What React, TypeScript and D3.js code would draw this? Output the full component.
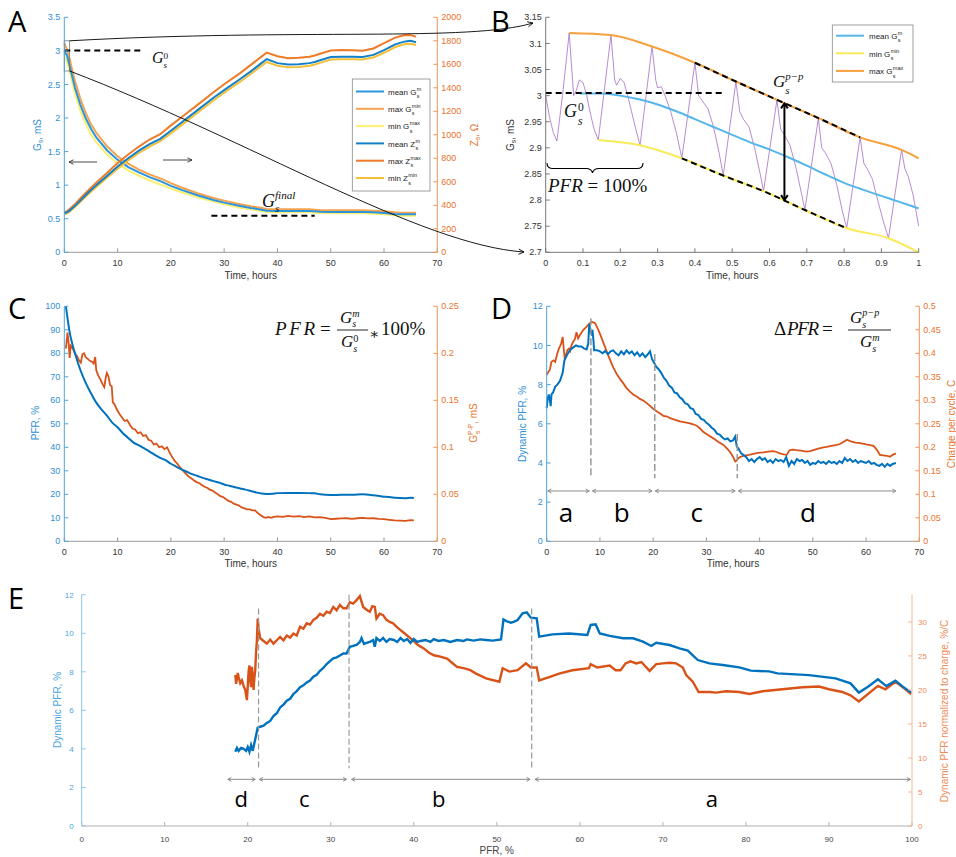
import React from 'react';
import * as d3 from 'd3';

const SANS = "'Liberation Sans', Arial, Helvetica, sans-serif";
const SERIF = "'Liberation Serif', 'DejaVu Serif', 'Times New Roman', serif";
const LETTER = "'Open Sans', 'DejaVu Sans', sans-serif";

// ---------------- Panel A data ----------------
const timeA = [0, 0.5, 1, 2, 3, 4, 5, 6, 8, 10, 12, 14, 16, 18, 20, 22, 25, 28, 30, 33, 35, 37, 38, 40, 42, 44, 46, 47, 48, 50, 52, 54, 56, 58, 60, 62, 63, 64, 65, 66];
const meanG = [3.0, 2.93, 2.78, 2.45, 2.2, 2.0, 1.84, 1.71, 1.52, 1.38, 1.27, 1.19, 1.12, 1.06, 0.99, 0.93, 0.85, 0.78, 0.74, 0.69, 0.66, 0.635, 0.62, 0.615, 0.615, 0.615, 0.615, 0.61, 0.605, 0.6, 0.6, 0.6, 0.6, 0.595, 0.585, 0.57, 0.565, 0.565, 0.565, 0.565];
const maxG = [3.12, 3.02, 2.88, 2.55, 2.29, 2.08, 1.91, 1.78, 1.58, 1.43, 1.32, 1.23, 1.16, 1.1, 1.03, 0.965, 0.88, 0.81, 0.77, 0.715, 0.685, 0.66, 0.645, 0.64, 0.64, 0.64, 0.64, 0.635, 0.63, 0.625, 0.625, 0.625, 0.625, 0.62, 0.61, 0.595, 0.59, 0.59, 0.59, 0.59];
const minG = [2.92, 2.84, 2.7, 2.36, 2.11, 1.92, 1.76, 1.64, 1.46, 1.32, 1.22, 1.14, 1.07, 1.01, 0.95, 0.895, 0.82, 0.755, 0.715, 0.665, 0.64, 0.615, 0.6, 0.595, 0.595, 0.595, 0.595, 0.59, 0.585, 0.58, 0.58, 0.58, 0.58, 0.575, 0.565, 0.55, 0.545, 0.545, 0.545, 0.545];
const meanZ = [333, 340, 355, 395, 440, 485, 530, 570, 650, 730, 800, 865, 920, 965, 1035, 1105, 1210, 1315, 1380, 1475, 1540, 1610, 1645, 1610, 1598, 1600, 1610, 1620, 1635, 1662, 1665, 1665, 1662, 1680, 1720, 1768, 1782, 1795, 1800, 1788];
const maxZ = [340, 350, 368, 410, 458, 505, 550, 592, 675, 760, 832, 900, 960, 1005, 1080, 1150, 1255, 1362, 1430, 1525, 1595, 1665, 1700, 1668, 1652, 1655, 1665, 1675, 1690, 1718, 1722, 1720, 1715, 1735, 1780, 1825, 1838, 1850, 1848, 1835];
const minZ = [325, 332, 345, 385, 428, 472, 515, 555, 635, 712, 782, 845, 900, 945, 1012, 1082, 1188, 1292, 1358, 1452, 1518, 1585, 1620, 1588, 1575, 1578, 1588, 1598, 1612, 1640, 1643, 1643, 1640, 1658, 1698, 1745, 1760, 1772, 1775, 1765];
const ticksGA = [0, 0.5, 1, 1.5, 2, 2.5, 3, 3.5];
const ticksZA = [0, 200, 400, 600, 800, 1000, 1200, 1400, 1600, 1800, 2000];
const ticksTime = [0, 10, 20, 30, 40, 50, 60, 70];
const legendA = [
  ['mean G', 'm'], ['max G', 'min'], ['min G', 'max'],
  ['mean Z', 'm'], ['max Z', 'max'], ['min Z', 'min'],
];

// ---------------- Panel B data ----------------
const bMax: [number, number][] = [[0.063, 3.12], [0.175, 3.116], [0.285, 3.094], [0.4, 3.063], [0.51, 3.027], [0.62, 2.992], [0.731, 2.957], [0.843, 2.92], [0.954, 2.896], [1.0, 2.88]];
const bMean: [number, number][] = [[0.092, 3.004], [0.15, 3.004], [0.2, 3.0], [0.25, 2.993], [0.3, 2.983], [0.35, 2.97], [0.4, 2.955], [0.45, 2.94], [0.5, 2.925], [0.55, 2.91], [0.6, 2.897], [0.65, 2.882], [0.7, 2.866], [0.75, 2.849], [0.8, 2.833], [0.85, 2.82], [0.9, 2.808], [0.95, 2.796], [1.0, 2.784]];
const bMin: [number, number][] = [[0.141, 2.915], [0.253, 2.905], [0.365, 2.88], [0.476, 2.847], [0.584, 2.817], [0.695, 2.781], [0.807, 2.746], [0.919, 2.727], [1.0, 2.7]];
const bSignal: [number, number][] = [
  [0, 3.0], [0.01, 2.96], [0.02, 2.93], [0.03, 2.913], [0.045, 3.0], [0.063, 3.12], [0.075, 3.0], [0.082, 3.01], [0.09, 3.03], [0.1, 3.025], [0.11, 3.0], [0.12, 2.965], [0.13, 2.935], [0.141, 2.915],
  [0.175, 3.116], [0.185, 3.03], [0.19, 3.02], [0.2, 3.033], [0.21, 3.025], [0.22, 3.0], [0.23, 2.97], [0.24, 2.94], [0.253, 2.905],
  [0.285, 3.094], [0.295, 3.03], [0.3, 3.015], [0.31, 3.017], [0.32, 3.0], [0.335, 2.97], [0.35, 2.93], [0.365, 2.88],
  [0.4, 3.063], [0.41, 3.0], [0.42, 2.99], [0.435, 2.975], [0.45, 2.94], [0.465, 2.89], [0.476, 2.847],
  [0.51, 3.027], [0.52, 2.97], [0.53, 2.955], [0.545, 2.94], [0.56, 2.9], [0.575, 2.85], [0.584, 2.817],
  [0.62, 2.992], [0.63, 2.935], [0.64, 2.925], [0.655, 2.905], [0.67, 2.865], [0.685, 2.815], [0.695, 2.781],
  [0.731, 2.957], [0.74, 2.9], [0.75, 2.89], [0.765, 2.87], [0.78, 2.83], [0.795, 2.78], [0.807, 2.746],
  [0.843, 2.92], [0.853, 2.87], [0.862, 2.86], [0.876, 2.84], [0.89, 2.8], [0.905, 2.76], [0.919, 2.727],
  [0.954, 2.896], [0.963, 2.86], [0.972, 2.845], [0.985, 2.81], [1.0, 2.75],
];
const ticksGB = [2.7, 2.75, 2.8, 2.85, 2.9, 2.95, 3, 3.05, 3.1, 3.15];
const ticksTB = [0, 0.1, 0.2, 0.3, 0.4, 0.5, 0.6, 0.7, 0.8, 0.9, 1];
const legendB = [['mean G', 'm'], ['min G', 'min'], ['max G', 'max']];
const bG0 = 3.005;
const bUpperRange = [0.4, 0.845];
const bLowerRange = [0.365, 0.808];
const bArrowT = 0.64;
const bArrowG = [2.985, 2.8];

// ---------------- Panel C data ----------------
const pfrC: [number, number][] = [[0.3, 100], [0.6, 95], [1, 89], [1.5, 84], [2, 80], [3, 73], [4, 67.5], [5, 63], [6, 59], [7, 56], [8, 53.5], [9, 50.5], [10, 48.5], [11, 46], [12, 44], [13, 42], [14, 40.8], [15, 39.5], [16, 38.2], [17, 36.8], [18, 35.5], [19, 34.5], [20, 33], [21, 31.8], [22, 30.6], [23, 29.6], [24, 28.6], [25, 27.8], [26, 27], [27, 26.3], [28, 25.6], [29, 25], [30, 24.2], [31, 23.6], [32, 23], [33, 22.5], [34, 22], [35, 21.4], [36, 20.8], [37, 20.3], [38, 20.1], [39, 20.2], [40, 20.5], [42, 20.6], [44, 20.6], [46, 20.5], [47, 20.4], [48, 20.0], [50, 19.7], [52, 19.8], [54, 19.8], [56, 20.0], [58, 19.6], [60, 19.0], [62, 18.5], [64, 18.3], [65, 18.5], [65.6, 18.4]];
const gppC: [number, number][] = [[0.3, 0.205], [0.6, 0.222], [0.8, 0.212], [1.0, 0.195], [1.2, 0.208], [1.6, 0.205], [2.0, 0.2], [2.4, 0.197], [2.8, 0.192], [3.1, 0.19], [3.4, 0.199], [3.7, 0.2], [4.0, 0.196], [4.4, 0.194], [4.8, 0.192], [5.2, 0.191], [5.5, 0.189], [5.8, 0.196], [6.0, 0.182], [6.4, 0.176], [6.8, 0.172], [7.2, 0.167], [7.5, 0.164], [7.8, 0.175], [8.0, 0.179], [8.3, 0.175], [8.6, 0.166], [8.9, 0.165], [9.1, 0.148], [9.4, 0.146], [9.8, 0.141], [10.3, 0.136], [10.8, 0.132], [11.3, 0.128], [11.8, 0.129], [12.3, 0.124], [12.8, 0.12], [13.3, 0.119], [13.8, 0.115], [14.3, 0.116], [14.8, 0.112], [15.3, 0.113], [15.8, 0.108], [16.3, 0.107], [16.8, 0.103], [17.3, 0.104], [17.8, 0.1], [18.3, 0.101], [18.8, 0.098], [19.3, 0.1], [19.8, 0.094], [20.3, 0.089], [20.8, 0.085], [21.3, 0.082], [21.8, 0.078], [22.3, 0.075], [22.8, 0.072], [23.3, 0.069], [23.8, 0.067], [24.3, 0.065], [24.8, 0.063], [25.3, 0.062], [25.8, 0.06], [26.3, 0.058], [26.8, 0.057], [27.3, 0.055], [27.8, 0.054], [28.3, 0.052], [28.8, 0.05], [29.3, 0.048], [29.8, 0.047], [30.3, 0.045], [30.8, 0.043], [31.3, 0.042], [31.8, 0.04], [32.3, 0.039], [32.8, 0.038], [33.3, 0.036], [33.8, 0.035], [34.3, 0.034], [34.8, 0.034], [35.3, 0.033], [35.8, 0.033], [36.3, 0.03], [36.8, 0.028], [37.3, 0.026], [37.8, 0.025], [38.3, 0.026], [38.8, 0.025], [39.3, 0.026], [40, 0.0265], [41, 0.026], [42, 0.027], [43, 0.0262], [44, 0.0268], [45, 0.0258], [46, 0.0265], [47, 0.0255], [48, 0.0258], [49, 0.0248], [50, 0.0235], [51, 0.024], [52, 0.0243], [53, 0.0245], [54, 0.0238], [55, 0.0245], [56, 0.025], [57, 0.0243], [58, 0.0245], [59, 0.0238], [60, 0.0235], [61, 0.0228], [62, 0.0222], [63, 0.022], [64, 0.0218], [65, 0.0225], [65.6, 0.0222]];
const ticksPFR = [0, 10, 20, 30, 40, 50, 60, 70, 80, 90, 100];
const ticksGpp = [0, 0.05, 0.1, 0.15, 0.2, 0.25];

// ---------------- Panel D data ----------------
const dynD: [number, number][] = [[0, 6.8], [0.2, 7.3], [0.4, 7.5], [0.6, 7.2], [0.75, 6.9], [0.9, 7.5], [1.2, 7.6], [1.6, 7.9], [2.0, 8.0], [2.5, 8.2], [3.0, 8.6], [3.3, 9.2], [3.6, 9.4], [4.0, 9.6], [4.5, 9.8], [5.0, 9.9], [5.5, 10.0], [6.0, 9.95], [6.5, 9.95], [7.0, 9.85], [7.5, 9.8], [7.8, 10.1], [8.0, 11.1], [8.2, 10.7], [8.4, 10.6], [8.6, 10.8], [8.8, 10.2], [8.9, 9.75], [9.5, 9.75], [10, 9.7], [10.5, 9.6], [11, 9.72], [11.5, 9.55], [12, 9.7], [12.5, 9.75], [13, 9.6], [13.5, 9.5], [14, 9.7], [14.5, 9.55], [15, 9.75], [15.5, 9.6], [16, 9.7], [16.5, 9.5], [17, 9.65], [17.5, 9.45], [18, 9.6], [18.5, 9.4], [19, 9.55], [19.4, 9.7], [19.8, 9.3], [20.2, 9.1], [20.6, 8.9], [21, 8.8], [21.5, 8.6], [22, 8.35], [22.5, 8.2], [23, 7.95], [23.5, 7.85], [24, 7.6], [24.5, 7.55], [25, 7.35], [25.5, 7.25], [26, 7.05], [26.5, 7.0], [27, 6.8], [27.5, 6.75], [28, 6.5], [28.5, 6.45], [29, 6.25], [29.5, 6.2], [30, 6.05], [30.5, 5.95], [31, 5.8], [31.5, 5.7], [32, 5.5], [32.5, 5.45], [33, 5.3], [33.5, 5.2], [34, 5.25], [34.5, 5.1], [35, 5.15], [35.4, 5.35], [35.7, 4.85], [36, 4.75], [36.5, 4.5], [37, 4.4], [37.5, 4.3], [38, 4.1], [38.5, 4.2], [39, 4.05], [39.5, 4.2], [40, 4.3], [40.5, 4.15], [41, 4.25], [41.5, 4.05], [42, 4.15], [42.5, 4.0], [43, 4.2], [43.5, 4.1], [44, 4.15], [44.5, 4.05], [45, 4.3], [45.5, 3.85], [46, 4.1], [46.5, 3.95], [47, 4.2], [47.5, 4.1], [48, 4.15], [48.5, 4.0], [49, 4.1], [49.5, 3.9], [50, 4.0], [50.5, 3.95], [51, 4.1], [51.5, 4.0], [52, 4.05], [52.5, 3.95], [53, 4.1], [53.5, 4.0], [54, 4.05], [54.5, 3.95], [55, 4.1], [55.5, 4.0], [56, 4.25], [56.5, 4.1], [57, 4.2], [57.5, 4.05], [58, 4.15], [58.5, 4.0], [59, 4.1], [59.5, 4.05], [60, 4.0], [60.5, 4.1], [61, 3.95], [61.5, 4.0], [62, 3.9], [62.5, 3.85], [63, 3.95], [63.5, 3.8], [64, 3.95], [64.5, 3.85], [65, 3.95], [65.6, 4.0]];
const chargeD: [number, number][] = [[0, 0.354], [0.3, 0.36], [0.6, 0.365], [0.9, 0.382], [1.3, 0.385], [1.6, 0.382], [2.0, 0.4], [2.3, 0.41], [2.7, 0.42], [3.0, 0.435], [3.2, 0.41], [3.4, 0.386], [3.7, 0.4], [3.9, 0.407], [4.2, 0.41], [4.4, 0.405], [4.7, 0.418], [5.0, 0.425], [5.3, 0.43], [5.6, 0.445], [5.9, 0.432], [6.3, 0.44], [6.9, 0.45], [7.5, 0.457], [8.0, 0.463], [8.5, 0.467], [9.1, 0.464], [9.7, 0.45], [10.2, 0.436], [10.7, 0.421], [11.3, 0.403], [11.9, 0.386], [12.5, 0.37], [13.1, 0.357], [13.8, 0.345], [14.4, 0.336], [15, 0.326], [15.7, 0.318], [16.3, 0.312], [16.9, 0.308], [17.5, 0.303], [18.2, 0.299], [18.8, 0.294], [19.4, 0.288], [20, 0.282], [20.7, 0.276], [21.3, 0.272], [21.9, 0.267], [22.5, 0.266], [23.2, 0.262], [24, 0.259], [25, 0.255], [26, 0.253], [26.9, 0.251], [27.5, 0.249], [28.2, 0.246], [28.8, 0.24], [29.4, 0.233], [30.3, 0.226], [31.3, 0.219], [32.2, 0.212], [33.2, 0.205], [33.8, 0.198], [34.4, 0.191], [35, 0.18], [35.4, 0.17], [35.7, 0.172], [36, 0.177], [36.5, 0.18], [37, 0.182], [38, 0.184], [38.8, 0.186], [39.7, 0.188], [40.7, 0.189], [41.6, 0.191], [42.6, 0.192], [43.2, 0.19], [43.8, 0.187], [44.5, 0.185], [45.1, 0.184], [45.4, 0.19], [45.7, 0.194], [46.3, 0.195], [46.9, 0.194], [47.8, 0.193], [48.8, 0.191], [49.5, 0.192], [50.1, 0.194], [51, 0.197], [52, 0.2], [52.6, 0.201], [53.5, 0.203], [54.5, 0.205], [55.1, 0.207], [55.8, 0.212], [56.4, 0.216], [57, 0.213], [58, 0.21], [58.9, 0.209], [60, 0.206], [61, 0.204], [61.4, 0.203], [62, 0.195], [62.6, 0.184], [63.2, 0.183], [63.9, 0.182], [64.5, 0.18], [65, 0.184], [65.6, 0.187]];
const ticksDyn = [0, 2, 4, 6, 8, 10, 12];
const ticksCharge = [0, 0.05, 0.1, 0.15, 0.2, 0.25, 0.3, 0.35, 0.4, 0.45, 0.5];
const dPhaseLines: [number, number][] = [[8.3, 11.39], [20.3, 9.57], [35.8, 5.48]];
const dPhaseBottom = 3.22;
const dArrowStart = [0.2, 8.6, 20.4, 36.0];
const dArrowEnd = [8.0, 19.8, 35.4, 65.6];
const dArrowLevel = 2.57;
const dLetters = ['a', 'b', 'c', 'd'];
const dLetterX = [3.6, 14.1, 28.2, 49.1];
const dLetterLevel = 1.0;

// ---------------- Panel E data ----------------
const dynE: [number, number][] = [[18.5, 3.85], [18.7, 4.05], [18.9, 3.9], [19.2, 4.05], [19.5, 4.0], [19.8, 3.9], [20.0, 4.1], [20.2, 3.85], [20.4, 4.2], [20.6, 3.9], [20.8, 4.3], [21.0, 4.7], [21.2, 5.1], [21.5, 5.15], [21.9, 5.2], [22.3, 5.35], [22.7, 5.45], [23.1, 5.7], [23.5, 5.85], [23.9, 6.15], [24.3, 6.3], [24.7, 6.5], [25.1, 6.6], [25.5, 6.85], [25.9, 7.0], [26.3, 7.2], [26.7, 7.3], [27.1, 7.45], [27.5, 7.55], [27.9, 7.75], [28.3, 7.85], [28.7, 8.05], [29.1, 8.2], [29.5, 8.4], [29.9, 8.55], [30.3, 8.7], [30.7, 8.75], [31.1, 8.85], [31.5, 8.95], [31.9, 8.95], [32.3, 9.3], [32.7, 9.35], [33.1, 9.4], [33.5, 9.55], [33.7, 9.75], [34.0, 9.45], [34.3, 9.5], [34.7, 9.55], [35.1, 9.65], [35.3, 9.3], [35.5, 9.75], [35.9, 9.6], [36.3, 9.75], [36.7, 9.55], [37.1, 9.7], [37.6, 9.65], [38.0, 9.55], [38.4, 9.75], [38.8, 9.6], [39.2, 9.7], [39.6, 9.5], [40.0, 9.7], [40.4, 9.55], [40.8, 9.6], [41.4, 9.65], [42.0, 9.55], [42.4, 9.7], [43.0, 9.6], [43.6, 9.65], [44.4, 9.55], [45.2, 9.65], [46.0, 9.6], [46.4, 9.68], [47.2, 9.62], [48.0, 9.68], [48.7, 9.65], [49.5, 9.62], [50.5, 9.68], [50.8, 10.72], [51.2, 10.62], [51.7, 10.55], [52.1, 10.6], [52.5, 10.69], [53.1, 11.03], [53.6, 11.08], [54.1, 10.81], [54.8, 10.77], [55.1, 9.82], [56.7, 9.94], [58.7, 9.99], [60.9, 9.91], [61.3, 10.43], [61.9, 10.46], [62.4, 9.99], [63.6, 9.86], [65.2, 9.74], [66.4, 9.74], [67.6, 9.56], [68.6, 9.34], [69.2, 9.51], [70.8, 9.39], [72, 9.22], [73, 9.1], [74.2, 8.61], [75.6, 8.44], [77.2, 8.35], [79.2, 8.23], [80.6, 8.06], [82.8, 8.02], [83.8, 7.92], [87.6, 7.83], [90.8, 7.66], [92.6, 7.4], [93.6, 6.92], [94.7, 7.23], [95.9, 7.61], [96.9, 7.26], [98, 7.54], [98.9, 7.23], [99.9, 6.92]];
const normE: [number, number][] = [[18.5, 22.2], [18.6, 20.9], [18.8, 22.5], [18.9, 21.9], [19.1, 21.0], [19.3, 21.4], [19.5, 20.6], [19.7, 20.0], [19.9, 18.5], [20.0, 20.5], [20.1, 22.7], [20.2, 23.6], [20.3, 21.4], [20.4, 20.4], [20.5, 23.4], [20.6, 22.0], [20.7, 20.0], [20.8, 21.8], [20.9, 22.9], [21.0, 25.5], [21.1, 27.3], [21.2, 30.5], [21.3, 29.0], [21.5, 27.6], [21.9, 27.2], [22.3, 26.8], [22.7, 27.4], [23.1, 26.8], [23.5, 27.3], [23.9, 27.8], [24.3, 27.3], [24.7, 28.0], [25.1, 27.7], [25.5, 28.3], [25.9, 28.0], [26.3, 29.3], [26.7, 29.0], [27.1, 29.8], [27.5, 29.6], [27.9, 30.3], [28.3, 30.6], [28.7, 31.2], [29.1, 30.9], [29.5, 31.5], [29.9, 31.3], [30.3, 32.2], [30.7, 31.7], [31.1, 32.5], [31.5, 32.0], [31.9, 32.0], [32.3, 32.9], [32.7, 32.7], [33.1, 33.2], [33.5, 33.8], [33.9, 32.2], [34.3, 31.8], [34.7, 31.5], [35.0, 32.3], [35.3, 32.2], [35.5, 30.5], [35.9, 31.2], [36.3, 31.0], [36.7, 30.3], [37.1, 30.0], [37.5, 29.8], [37.9, 29.3], [38.4, 28.8], [38.9, 28.3], [39.4, 27.8], [39.9, 27.3], [40.5, 26.6], [41.2, 26.1], [41.8, 25.5], [42.4, 25.1], [43.2, 24.9], [44.0, 24.6], [44.6, 24.0], [45.2, 23.4], [46.0, 23.2], [46.8, 22.9], [47.5, 22.4], [48.7, 21.7], [50.3, 21.2], [50.7, 23.2], [51.5, 22.7], [52.5, 22.9], [53.5, 23.9], [54.1, 23.3], [54.8, 23.3], [55.1, 21.4], [56.3, 21.9], [57.5, 22.4], [59.1, 22.9], [61.1, 23.2], [61.3, 23.8], [62.1, 23.3], [63.6, 23.6], [64.3, 22.9], [64.9, 22.9], [65.5, 23.9], [66.1, 24.2], [66.8, 23.9], [67.4, 24.1], [68.4, 22.8], [69.2, 23.8], [70, 23.9], [70.8, 24.0], [71.6, 23.9], [72.4, 23.3], [72.8, 22.2], [73.6, 21.2], [74.3, 19.7], [75.6, 19.7], [76.4, 19.6], [77.6, 19.8], [79.2, 19.7], [80.4, 19.4], [82, 19.8], [84.4, 20.1], [86.8, 20.4], [88.8, 20.5], [90, 20.1], [91.6, 19.7], [92.6, 19.2], [93.6, 18.3], [95.9, 20.6], [96.8, 20.1], [98, 21.2], [99.1, 20.2], [99.9, 19.4]];
const ticksPFRx = [0, 10, 20, 30, 40, 50, 60, 70, 80, 90, 100];
const ticksNorm = [0, 5, 10, 15, 20, 25, 30];
const ePhaseLines: [number, number][] = [[21.3, 11.29], [32.2, 12.0], [54.2, 11.29]];
const ePhaseBottom = 2.99;
const eArrowStart = [17.6, 21.4, 32.5, 54.6];
const eArrowEnd = [20.9, 31.9, 54.0, 99.8];
const eArrowLevel = 2.42;
const eLetters = ['d', 'c', 'b', 'a'];
const eLetterX = [19.2, 26.8, 43.0, 75.9];
const eLetterLevel = 0.99;

// ---------------- helpers ----------------
const fmt = d3.format('~g');
const CW: Record<string, number> = { m: 0.833, e: 0.556, a: 0.556, n: 0.556, ' ': 0.278, G: 0.778, x: 0.5, i: 0.222, Z: 0.611 };
const textW = (s: string, fs: number) => s.split('').reduce((acc, c) => acc + (CW[c] ?? 0.55), 0) * fs;

type Sc = d3.ScaleLinear<number, number>;

function YAxis({ scale, x, ticks, side, color, textColor, fs = 9, tl = 4, gap = 4 }: any) {
  const [b, t] = scale.range();
  const dir = side === 'left' ? 1 : -1;
  return (
    <g>
      <line x1={x} x2={x} y1={b} y2={t} stroke={color} strokeWidth={1} />
      {ticks.map((v: number) => (
        <g key={v}>
          <line x1={x} x2={x + dir * tl} y1={scale(v)} y2={scale(v)} stroke={color} strokeWidth={1} />
          <text x={side === 'left' ? x - gap : x + gap} y={scale(v) + fs * 0.35} textAnchor={side === 'left' ? 'end' : 'start'} fontSize={fs} fill={textColor}>
            {fmt(v)}
          </text>
        </g>
      ))}
    </g>
  );
}

function XAxis({ scale, y, ticks, color, textColor, fs = 9, tl = 4, off = 14 }: any) {
  const [l, r] = scale.range();
  return (
    <g>
      <line x1={l} x2={r} y1={y} y2={y} stroke={color} strokeWidth={1} />
      {ticks.map((v: number) => (
        <g key={v}>
          <line x1={scale(v)} x2={scale(v)} y1={y} y2={y - tl} stroke={color} strokeWidth={1} />
          <text x={scale(v)} y={y + off} textAnchor="middle" fontSize={fs} fill={textColor}>
            {fmt(v)}
          </text>
        </g>
      ))}
    </g>
  );
}

function head(x: number, y: number, ang: number, len: number, spread = 0.5) {
  const a1 = ang + Math.PI - spread;
  const a2 = ang + Math.PI + spread;
  return `M${x + len * Math.cos(a1)},${y + len * Math.sin(a1)}L${x},${y}L${x + len * Math.cos(a2)},${y + len * Math.sin(a2)}`;
}

function DoubleArrowH({ x1, x2, y, color, sw = 1, len = 5 }: any) {
  return (
    <g fill="none" stroke={color} strokeWidth={sw}>
      <line x1={x1} x2={x2} y1={y} y2={y} />
      <path d={head(x1, y, Math.PI, len)} />
      <path d={head(x2, y, 0, len)} />
    </g>
  );
}

function Gs({ x, y, size, sup, supItalic = true, supDx = 0.72, supDy = -0.27, subDy = 0.24, rel = 0.65, fill = '#111' }: any) {
  return (
    <g fontFamily={SERIF} fill={fill}>
      <text x={x} y={y} fontSize={size} fontStyle="italic">G</text>
      <text x={x + size * supDx} y={y + size * subDy} fontSize={size * rel} fontStyle="italic">s</text>
      <text x={x + size * supDx} y={y + size * supDy} fontSize={size * rel} fontStyle={supItalic ? 'italic' : 'normal'}>{sup}</text>
    </g>
  );
}

function LegendRow({ x1, x2, tx, y, color, sw = 2, main, sup, fs = 8 }: any) {
  const w = textW(main, fs);
  return (
    <g>
      <line x1={x1} x2={x2} y1={y} y2={y} stroke={color} strokeWidth={sw} />
      <text x={tx} y={y + 3.2} fontSize={fs} fill="#222">{main}</text>
      <text x={tx + w + 0.3} y={y - 0.8} fontSize={fs * 0.68} fill="#222">{sup}</text>
      <text x={tx + w + 0.3} y={y + 6.6} fontSize={fs * 0.68} fill="#222">s</text>
    </g>
  );
}

const mkLine = (xs: Sc, ys: Sc, curve: any = d3.curveLinear) =>
  d3.line<[number, number]>().x((d) => xs(d[0])).y((d) => ys(d[1])).curve(curve);

// colors
const LBLUE_AX = '#4da3dc';
const LBLUE_TX = '#2f8fd3';
const ORNG_AX = '#f0945a';
const ORNG_TX = '#e8732e';
const GRAY_AX = '#9a9a9a';
const DARK_TX = '#333';
const M_BLUE = '#0072BD';
const M_ORANGE = '#D95319';

export default function App() {
  // ----- Panel A scales -----
  const xA = d3.scaleLinear().domain([0, 70]).range([64.3, 437.3]);
  const yAG = d3.scaleLinear().domain([0, 3.5]).range([252.3, 17.3]);
  const yAZ = d3.scaleLinear().domain([0, 2000]).range([252.3, 17.3]);
  const lAG = mkLine(xA, yAG);
  const lAZ = mkLine(xA, yAZ);
  const zipA = (v: number[]) => d3.zip(timeA, v) as [number, number][];
  const legendAColors = ['#2b95dc', '#f6a24e', '#fbef72', '#1480c8', '#ee7b2a', '#f3c03a'];

  // ----- Panel B -----
  const xB = d3.scaleLinear().domain([0, 1]).range([545.7, 918.7]);
  const yB = d3.scaleLinear().domain([2.7, 3.15]).range([252.3, 17.3]);
  const lB = mkLine(xB, yB);
  const lBs = mkLine(xB, yB, d3.curveMonotoneX);
  const B_MEAN = '#56b6ea';
  const B_MIN = '#f8ea58';
  const B_MAX = '#f6a03e';
  const upper = bMax.filter((d) => d[0] >= bUpperRange[0] && d[0] <= bUpperRange[1]);
  const lower = bMin.filter((d) => d[0] >= bLowerRange[0] && d[0] <= bLowerRange[1]);

  // ----- Panel C -----
  const xC = d3.scaleLinear().domain([0, 70]).range([64.3, 437.3]);
  const yCL = d3.scaleLinear().domain([0, 100]).range([541.3, 306.3]);
  const yCR = d3.scaleLinear().domain([0, 0.25]).range([541.3, 306.3]);

  // ----- Panel D -----
  const xD = d3.scaleLinear().domain([0, 70]).range([546.7, 919.3]);
  const yDL = d3.scaleLinear().domain([0, 12]).range([541.3, 306.3]);
  const yDR = d3.scaleLinear().domain([0, 0.5]).range([541.3, 306.3]);

  // ----- Panel E -----
  const xE = d3.scaleLinear().domain([0, 100]).range([81.7, 912]);
  const yEL = d3.scaleLinear().domain([0, 12]).range([826, 594.7]);
  const yER = d3.scaleLinear().domain([0, 34]).range([826, 594.7]);

  const rect0 = { x0: xA(0), x1: xA(1), y0: yAG(3.15), y1: yAG(2.7) };

  return (
    <svg width={956} height={857} style={{ position: 'absolute', left: 0, top: 0, background: '#fff' }} fontFamily={SANS}>
      <rect x={0} y={0} width={956} height={857} fill="#fff" />

      {/* ================= Panel A ================= */}
      <g>
        <text x={8} y={32} fontSize={29} fontFamily={LETTER} fill="#000">A</text>
        <g fill="none" strokeWidth={2}>
          <path d={lAG(zipA(minG))!} stroke="#fbef72" />
          <path d={lAG(zipA(maxG))!} stroke="#f6a24e" />
          <path d={lAG(zipA(meanG))!} stroke="#2b95dc" />
          <path d={lAZ(zipA(minZ))!} stroke="#f3c03a" />
          <path d={lAZ(zipA(maxZ))!} stroke="#ee7b2a" />
          <path d={lAZ(zipA(meanZ))!} stroke="#1480c8" />
        </g>
        <rect x={rect0.x0} y={rect0.y0} width={rect0.x1 - rect0.x0} height={rect0.y1 - rect0.y0} fill="none" stroke="#777" strokeWidth={0.8} />
        <line x1={xA(0)} x2={xA(15)} y1={yAG(3.004)} y2={yAG(3.004)} stroke="#000" strokeWidth={2} strokeDasharray="6,4" />
        <line x1={xA(27.6)} x2={xA(47)} y1={yAG(0.546)} y2={yAG(0.546)} stroke="#000" strokeWidth={2} strokeDasharray="6,4" />
        <Gs x={152} y={63} size={16} sup="0" supItalic={false} supDy={-0.26} subDy={0.3} rel={0.58} />
        <Gs x={262} y={207} size={18} sup="final" supDy={-0.42} subDy={0.27} rel={0.62} />
        <g stroke="#333" strokeWidth={0.9} fill="none">
          <line x1={97} x2={69} y1={162} y2={162} />
          <path d={head(69, 162, Math.PI, 5, 0.45)} />
          <line x1={163} x2={192} y1={160} y2={160} />
          <path d={head(192, 160, 0, 5, 0.45)} />
        </g>
        <XAxis scale={xA} y={252.3} ticks={ticksTime} color={GRAY_AX} textColor={DARK_TX} />
        <YAxis scale={yAG} x={64.3} ticks={ticksGA} side="left" color={LBLUE_AX} textColor={LBLUE_TX} />
        <YAxis scale={yAZ} x={437.3} ticks={ticksZA} side="right" color={ORNG_AX} textColor={ORNG_TX} />
        <text x={250.8} y={279} textAnchor="middle" fontSize={10} fill={DARK_TX}>Time, hours</text>
        <text transform="translate(41,135) rotate(-90)" textAnchor="middle" fontSize={10} fill={LBLUE_TX}>
          G<tspan fontSize={7} dy={2}>s</tspan><tspan dy={-2}>, mS</tspan>
        </text>
        <text transform="translate(478,135) rotate(-90)" textAnchor="middle" fontSize={10} fill={ORNG_TX}>
          Z<tspan fontSize={7} dy={2}>s</tspan><tspan dy={-2}>, Ω</tspan>
        </text>
        <rect x={352.3} y={79} width={77.7} height={112} fill="#fff" stroke="#888" strokeWidth={0.8} />
        {legendA.map((row, i) => (
          <LegendRow key={i} x1={356} x2={384} tx={388} y={91.5 + i * 17.3} color={legendAColors[i]} main={row[0]} sup={row[1]} />
        ))}
      </g>

      {/* connector curves A -> B */}
      <g fill="none" stroke="#000" strokeWidth={0.9}>
        <path d={`M${rect0.x1},${rect0.y0} C300,28 470,42 533,23`} />
        <path d={head(533, 23, Math.atan2(23 - 30, 533 - 505), 6, 0.45)} />
        <path d={`M${rect0.x1},${rect0.y1} C250,140 420,245 524,252`} />
        <path d={head(524, 252, Math.atan2(252 - 250.5, 524 - 500), 6, 0.45)} />
      </g>

      {/* ================= Panel B ================= */}
      <g>
        <text x={491} y={32} fontSize={29} fontFamily={LETTER} fill="#000">B</text>
        <path d={lB(bSignal)!} fill="none" stroke="#a46fc8" strokeWidth={0.8} />
        <path d={lBs(bMean)!} fill="none" stroke={B_MEAN} strokeWidth={2} />
        <path d={lBs(bMin)!} fill="none" stroke={B_MIN} strokeWidth={2} />
        <path d={lBs(bMax)!} fill="none" stroke={B_MAX} strokeWidth={2} />
        <line x1={xB(0)} x2={xB(0.48)} y1={yB(bG0)} y2={yB(bG0)} stroke="#000" strokeWidth={2} strokeDasharray="6,4" />
        <path d={lBs(upper)!} fill="none" stroke="#000" strokeWidth={2} strokeDasharray="6,4" />
        <path d={lBs(lower)!} fill="none" stroke="#000" strokeWidth={2} strokeDasharray="6,4" />
        <g stroke="#000" strokeWidth={2} fill="none">
          <line x1={xB(bArrowT)} x2={xB(bArrowT)} y1={yB(bArrowG[0])} y2={yB(bArrowG[1])} />
          <path d={head(xB(bArrowT), yB(bArrowG[0]), -Math.PI / 2, 6, 0.6)} />
          <path d={head(xB(bArrowT), yB(bArrowG[1]), Math.PI / 2, 6, 0.6)} />
        </g>
        <Gs x={773} y={87} size={17} sup="p−p" supDy={-0.42} subDy={0.42} rel={0.64} />
        <Gs x={564} y={117} size={18} sup="0" supItalic={false} supDx={0.78} supDy={-0.32} subDy={0.44} rel={0.64} />
        <path d="M547,163 Q547,168.5 553,168.5 L586,168.5 Q591.5,168.5 592.5,173 Q593.5,168.5 599,168.5 L637,168.5 Q643,168.5 643,163" fill="none" stroke="#000" strokeWidth={1.1} />
        <text x={548} y={192} fontFamily={SERIF} fontSize={19} fill="#111">
          <tspan fontStyle="italic">PFR</tspan> = 100%
        </text>
        <XAxis scale={xB} y={252.3} ticks={ticksTB} color="#777" textColor={DARK_TX} />
        <YAxis scale={yB} x={545.7} ticks={ticksGB} side="left" color="#777" textColor={DARK_TX} />
        <text x={732.2} y={279} textAnchor="middle" fontSize={10} fill={DARK_TX}>Time, hours</text>
        <text transform="translate(514,135) rotate(-90)" textAnchor="middle" fontSize={10} fill={DARK_TX}>
          G<tspan fontSize={7} dy={2}>s</tspan><tspan dy={-2}>, mS</tspan>
        </text>
        <rect x={832.3} y={25} width={80.7} height={57} fill="#fff" stroke="#888" strokeWidth={0.8} />
        {legendB.map((row, i) => (
          <LegendRow key={i} x1={836} x2={864} tx={869} y={35.7 + i * 17.6} color={[B_MEAN, B_MIN, B_MAX][i]} main={row[0]} sup={row[1]} />
        ))}
      </g>

      {/* ================= Panel C ================= */}
      <g>
        <text x={8} y={319} fontSize={29} fontFamily={LETTER} fill="#000">C</text>
        <path d={mkLine(xC, yCR)(gppC)!} fill="none" stroke={M_ORANGE} strokeWidth={1.8} />
        <path d={mkLine(xC, yCL, d3.curveMonotoneX)(pfrC)!} fill="none" stroke={M_BLUE} strokeWidth={2} />
        <XAxis scale={xC} y={541.3} ticks={ticksTime} color={GRAY_AX} textColor={DARK_TX} />
        <YAxis scale={yCL} x={64.3} ticks={ticksPFR} side="left" color={LBLUE_AX} textColor={LBLUE_TX} />
        <YAxis scale={yCR} x={437.3} ticks={ticksGpp} side="right" color={ORNG_AX} textColor={ORNG_TX} />
        <text x={250.8} y={566.5} textAnchor="middle" fontSize={10} fill={DARK_TX}>Time, hours</text>
        <text transform="translate(38.5,423) rotate(-90)" textAnchor="middle" fontSize={10} fill={LBLUE_TX}>PFR, %</text>
        <text transform="translate(477,423) rotate(-90)" textAnchor="middle" fontSize={10} fill={ORNG_TX}>
          G<tspan fontSize={7} dy={-4}>P-P</tspan><tspan fontSize={7} dx={-11} dy={6.5}>s</tspan><tspan dx={7} dy={-2.5}>, mS</tspan>
        </text>
        <g fontFamily={SERIF} fill="#111">
          <text x={275} y={335} fontSize={19} fontStyle="italic" textLength={40} lengthAdjust="spacing">PFR</text>
          <text x={320} y={335} fontSize={19}>=</text>
          <line x1={337} x2={368} y1={330} y2={330} stroke="#111" strokeWidth={0.9} />
          <text x={369} y={339} fontSize={15} fontFamily="'DejaVu Serif', serif">∗</text>
          <text x={381} y={335} fontSize={19}>100%</text>
        </g>
        <Gs x={340} y={323} size={17} sup="m" supDy={-0.36} subDy={0.26} rel={0.6} />
        <Gs x={341} y={347} size={17} sup="0" supItalic={false} supDy={-0.32} subDy={0.32} rel={0.6} />
      </g>

      {/* ================= Panel D ================= */}
      <g>
        <text x={491} y={319} fontSize={29} fontFamily={LETTER} fill="#000">D</text>
        <path d={mkLine(xD, yDR)(chargeD)!} fill="none" stroke={M_ORANGE} strokeWidth={1.8} />
        <path d={mkLine(xD, yDL)(dynD)!} fill="none" stroke={M_BLUE} strokeWidth={2} />
        {dPhaseLines.map(([t, top], i) => (
          <line key={i} x1={xD(t)} x2={xD(t)} y1={yDL(top)} y2={yDL(dPhaseBottom)} stroke="#999" strokeWidth={1.5} strokeDasharray="7,3" />
        ))}
        {dArrowStart.map((s, i) => (
          <DoubleArrowH key={i} x1={xD(s)} x2={xD(dArrowEnd[i])} y={yDL(dArrowLevel)} color="#8c8c8c" sw={1} len={4} />
        ))}
        {dLetters.map((l, i) => (
          <text key={l} x={xD(dLetterX[i])} y={yDL(dLetterLevel)} textAnchor="middle" fontSize={26} fontFamily={LETTER} fill="#000">{l}</text>
        ))}
        <XAxis scale={xD} y={541.3} ticks={ticksTime} color={GRAY_AX} textColor={DARK_TX} />
        <YAxis scale={yDL} x={546.7} ticks={ticksDyn} side="left" color={LBLUE_AX} textColor={LBLUE_TX} />
        <YAxis scale={yDR} x={919.3} ticks={ticksCharge} side="right" color={ORNG_AX} textColor={ORNG_TX} />
        <text x={733} y={566.5} textAnchor="middle" fontSize={10} fill={DARK_TX}>Time, hours</text>
        <text transform="translate(526,424) rotate(-90)" textAnchor="middle" fontSize={10} fill={LBLUE_TX}>Dynamic PFR, %</text>
        <text transform="translate(955,424) rotate(-90)" textAnchor="middle" fontSize={10} fill={ORNG_TX}>Charge per cycle, C</text>
        <g fontFamily={SERIF} fill="#111">
          <text x={774} y={335} fontSize={19}>Δ</text>
          <text x={787} y={335} fontSize={19} fontStyle="italic" textLength={32} lengthAdjust="spacing">PFR</text>
          <text x={822} y={335} fontSize={19}>=</text>
          <line x1={848} x2={891} y1={330} y2={330} stroke="#111" strokeWidth={0.9} />
        </g>
        <Gs x={850} y={323} size={17} sup="p−p" supDy={-0.4} subDy={0.3} rel={0.6} />
        <Gs x={860} y={347} size={17} sup="m" supDy={-0.34} subDy={0.3} rel={0.6} />
      </g>

      {/* ================= Panel E ================= */}
      <g>
        <text x={8} y={609} fontSize={29} fontFamily={LETTER} fill="#000">E</text>
        <path d={mkLine(xE, yER)(normE)!} fill="none" stroke={M_ORANGE} strokeWidth={2.4} />
        <path d={mkLine(xE, yEL)(dynE)!} fill="none" stroke={M_BLUE} strokeWidth={2.4} />
        {ePhaseLines.map(([p, top], i) => (
          <line key={i} x1={xE(p)} x2={xE(p)} y1={yEL(top)} y2={yEL(ePhaseBottom)} stroke="#999" strokeWidth={1.2} strokeDasharray="6,3" />
        ))}
        {eArrowStart.map((s, i) => (
          <DoubleArrowH key={i} x1={xE(s)} x2={xE(eArrowEnd[i])} y={yEL(eArrowLevel)} color="#8c8c8c" sw={1} len={4} />
        ))}
        {eLetters.map((l, i) => (
          <text key={l} x={xE(eLetterX[i])} y={yEL(eLetterLevel)} textAnchor="middle" fontSize={22} fontFamily={LETTER} fill="#000">{l}</text>
        ))}
        <XAxis scale={xE} y={826} ticks={ticksPFRx} color="#b0b0b0" textColor="#444" fs={8} off={15.5} />
        <YAxis scale={yEL} x={81.7} ticks={ticksDyn} side="left" color="#8cc6ee" textColor="#4aa3e0" fs={8} gap={8} />
        <YAxis scale={yER} x={912} ticks={ticksNorm} side="right" color="#f5b894" textColor="#ee8a55" fs={8} gap={6} />
        <text x={496.8} y={854} textAnchor="middle" fontSize={10} fill="#444">PFR, %</text>
        <text transform="translate(61,710) rotate(-90)" textAnchor="middle" fontSize={10} fill="#4aa3e0">Dynamic PFR, %</text>
        <text transform="translate(948,711) rotate(-90)" textAnchor="middle" fontSize={10} fill="#ee8a55">Dynamic PFR normalized to charge, %/C</text>
      </g>
    </svg>
  );
}
